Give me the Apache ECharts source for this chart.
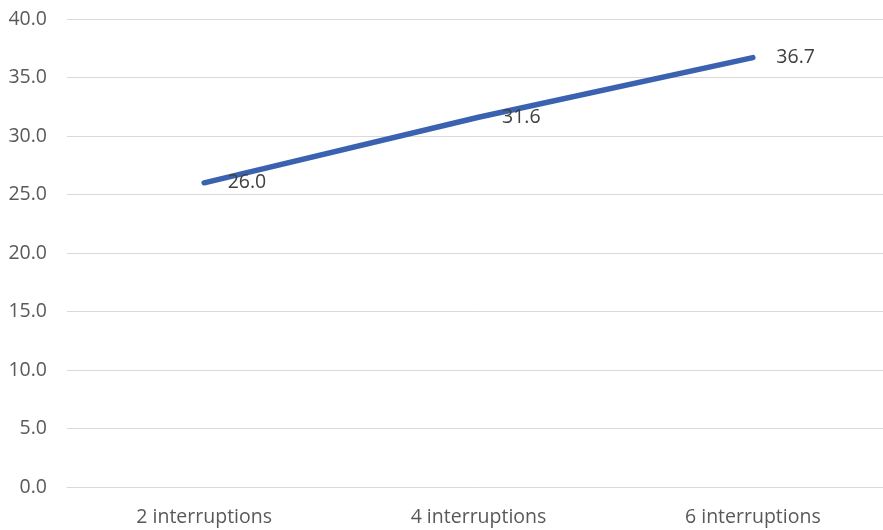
<!DOCTYPE html>
<html>
<head>
<meta charset="utf-8">
<script src="https://cdn.jsdelivr.net/npm/echarts@6/dist/echarts.min.js"></script>
<style>
  html, body { margin: 0; padding: 0; background: #ffffff; }
  #chart { width: 883px; height: 530px; }
</style>
</head>
<body>
<div id="chart"></div>
<script>
// Categories along the x axis
const categories = ['2 interruptions', '4 interruptions', '6 interruptions'];
// Measured values for each category
const values = [26.0, 31.6, 36.7];
// Value axis range
const yMin = 0;
const yMax = 40;
const yStep = 5;

const chart = echarts.init(document.getElementById('chart'));
const font = '"Open Sans", "Noto Sans", sans-serif';

chart.setOption({
  animation: false,
  backgroundColor: '#ffffff',
  grid: {
    left: 67, top: 19, right: -7, height: 468,
    containLabel: false,
    outerBoundsMode: 'none'
  },
  xAxis: {
    type: 'category',
    data: categories,
    boundaryGap: true,
    axisLine: { show: true, lineStyle: { color: '#d9d9d9', width: 1 } },
    axisTick: { show: false },
    axisLabel: { color: '#595959', fontSize: 19.5, fontFamily: font, margin: 20 },
    splitLine: { show: false }
  },
  yAxis: {
    type: 'value',
    min: yMin,
    max: yMax,
    interval: yStep,
    axisLine: { show: false },
    axisTick: { show: false },
    axisLabel: {
      color: '#595959', fontSize: 19.5, fontFamily: font, margin: 20,
      formatter: v => v.toFixed(1)
    },
    splitLine: { lineStyle: { color: '#d9d9d9', width: 1 } }
  },
  series: [{
    type: 'line',
    data: values,
    symbol: 'circle',
    symbolSize: 1,
    itemStyle: { color: 'rgba(0,0,0,0)' },
    lineStyle: { color: '#3a62b0', width: 5.5, cap: 'round' },
    label: {
      show: true,
      position: 'right',
      distance: 23,
      color: '#404040',
      fontSize: 19.5,
      fontFamily: font,
      formatter: p => p.value.toFixed(1)
    }
  }]
});
</script>
</body>
</html>
